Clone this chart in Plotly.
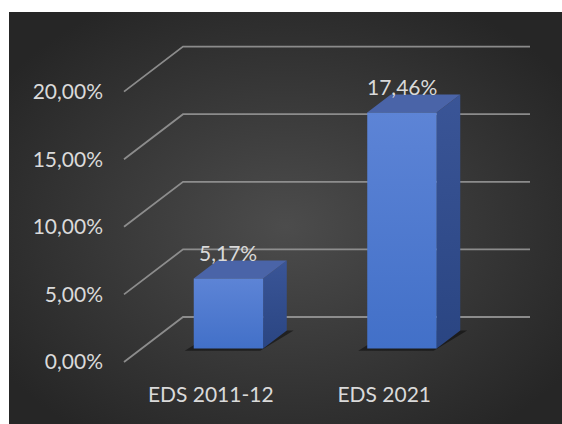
import base64
import plotly.graph_objects as go

# ---- data -------------------------------------------------------------
categories = ["EDS 2011-12", "EDS 2021"]
values = [0.0517, 0.1746]
tick_values = [0.0, 0.05, 0.10, 0.15, 0.20]

# ---- geometry of the pseudo-3D (oblique) projection --------------------
W, H = 562, 424
L, R, T, B = 110, 562, 12, 378          # plot area in pixels
X0_PX, X1_PX = 124, 471                 # front edge of the category band (-0.5 .. 1.5)
Y0_PX = 362                              # 0 % on the front plane
PX_PER_UNIT_Y = 1352                     # pixels for 100 %
DEPTH_DX_PX, DEPTH_DY_PX = 59, 45        # full floor depth offset
BAR_W, D0, D1 = 0.4, 0.3, 0.7            # bar width / depth span

px_per_x = (X1_PX - X0_PX) / 2.0
x_range = [-0.5 - (X0_PX - L) / px_per_x, 1.5 + (R - X1_PX) / px_per_x]
y_range = [(Y0_PX - B) / PX_PER_UNIT_Y, (Y0_PX - T) / PX_PER_UNIT_Y]
DX = DEPTH_DX_PX / px_per_x
DY = DEPTH_DY_PX / PX_PER_UNIT_Y

FONT = dict(family="Lato", size=21, color="#dadada")


def proj(x, v, d):
    return x + d * DX, v + d * DY


def poly(points):
    xs = [p[0] for p in points] + [points[0][0]]
    ys = [p[1] for p in points] + [points[0][1]]
    return xs, ys


fig = go.Figure()

# gridlines: front-left diagonal then back wall
for v in tick_values:
    pts = [proj(-0.5, v, 0), proj(-0.5, v, 1), proj(1.5, v, 1)]
    fig.add_trace(go.Scatter(
        x=[p[0] for p in pts], y=[p[1] for p in pts], mode="lines",
        line=dict(color="rgba(150,150,150,0.9)", width=1.8),
        hoverinfo="skip", showlegend=False))

# bars
for i, (cat, v) in enumerate(zip(categories, values)):
    c = i
    xl, xr = c - BAR_W / 2, c + BAR_W / 2

    # soft shadow on the floor
    xs, ys = poly([proj(xl - 0.035, 0, D0 - 0.05), proj(xr, 0, D0 - 0.05),
                   proj(xr + 0.04, 0, D1), proj(xl, 0, D1)])
    fig.add_trace(go.Scatter(x=xs, y=ys, mode="lines", fill="toself",
                             fillcolor="rgba(0,0,0,0.45)", line=dict(width=0),
                             hoverinfo="skip", showlegend=False))

    # right side face
    xs, ys = poly([proj(xr, 0, D0), proj(xr, 0, D1), proj(xr, v, D1), proj(xr, v, D0)])
    fig.add_trace(go.Scatter(x=xs, y=ys, mode="lines", fill="toself",
                             fillgradient=dict(type="vertical",
                                               colorscale=[[0, "#2a4582"], [1, "#3a5597"]]),
                             line=dict(width=0), hoverinfo="skip", showlegend=False))

    # top face
    xs, ys = poly([proj(xl, v, D0), proj(xr, v, D0), proj(xr, v, D1), proj(xl, v, D1)])
    fig.add_trace(go.Scatter(x=xs, y=ys, mode="lines", fill="toself",
                             fillcolor="#4a64a8", line=dict(width=0),
                             hoverinfo="skip", showlegend=False))

    # front face
    xs, ys = poly([proj(xl, 0, D0), proj(xr, 0, D0), proj(xr, v, D0), proj(xl, v, D0)])
    fig.add_trace(go.Scatter(x=xs, y=ys, mode="lines", fill="toself",
                             fillgradient=dict(type="vertical",
                                               colorscale=[[0, "#4270c8"], [1, "#5d84d6"]]),
                             line=dict(width=0), hoverinfo="skip", showlegend=False))

    # value label above the bar
    lx, _ = proj(c, v, D0)
    _, ly = proj(c, v, D1)
    fig.add_annotation(x=lx, y=ly, text=f"{v * 100:.2f}%".replace(".", ","),
                       showarrow=False, yanchor="middle", yshift=8, font=FONT)

# radial gradient background for the chart area
svg = (
    '<svg xmlns="http://www.w3.org/2000/svg" width="553" height="412">'
    '<defs><radialGradient id="g" cx="0.5" cy="0.52" r="0.62">'
    '<stop offset="0" stop-color="#4c4c4c"/>'
    '<stop offset="1" stop-color="#262626"/>'
    '</radialGradient></defs>'
    '<rect width="553" height="412" fill="url(#g)"/></svg>'
)
src = "data:image/svg+xml;base64," + base64.b64encode(svg.encode()).decode()
pw, ph = R - L, B - T
fig.add_layout_image(dict(
    source=src, xref="paper", yref="paper",
    x=(9 - L) / pw, y=(B - 12) / ph, sizex=(W - 9) / pw, sizey=(H - 12) / ph,
    xanchor="left", yanchor="top", sizing="stretch", layer="below"))

fig.update_layout(
    width=W, height=H,
    margin=dict(l=L, r=W - R, t=T, b=H - B, pad=0),
    paper_bgcolor="white", plot_bgcolor="rgba(0,0,0,0)",
    separators=",.",
    showlegend=False,
    xaxis=dict(range=x_range, tickmode="array", tickvals=[0, 1], ticktext=categories,
               showgrid=False, zeroline=False, showline=False, ticks="",
               tickfont=FONT, ticklabelstandoff=2, fixedrange=True),
    yaxis=dict(range=y_range, tickmode="array", tickvals=tick_values, tickformat=".2%",
               showgrid=False, zeroline=False, showline=False, ticks="",
               tickfont=FONT, ticklabelstandoff=6, fixedrange=True),
)

fig.write_html("out.html")
